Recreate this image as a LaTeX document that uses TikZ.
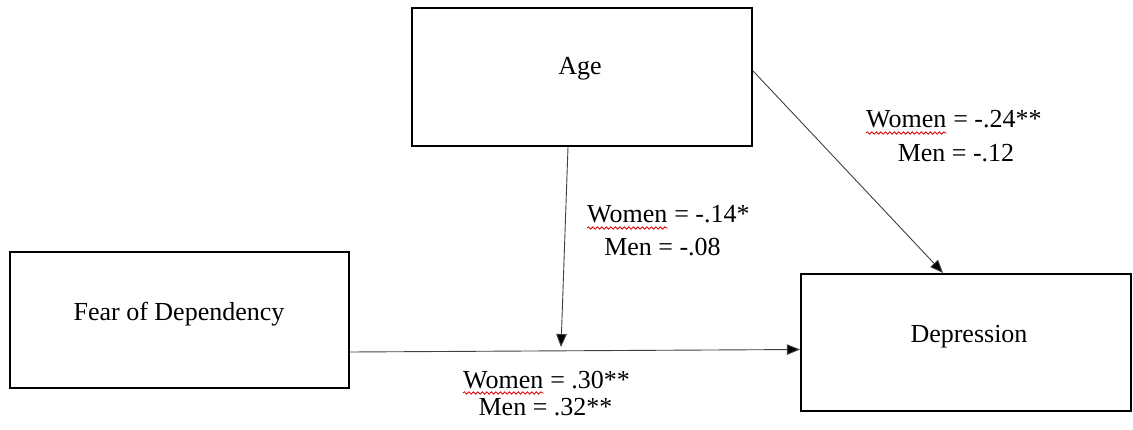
\documentclass[tikz,border=0pt]{standalone}
\usepackage{fontspec}
\setmainfont{Liberation Serif}
\usetikzlibrary{arrows.meta,decorations.pathmorphing}
\newcommand\lblfont{\fontsize{26}{30}\selectfont}
\tikzset{
  box/.style={draw=black, line width=2.2pt, inner sep=0pt, fill=white},
  txt/.style={inner sep=0pt, anchor=base, font=\lblfont},
  wtxt/.style={inner sep=0pt, anchor=base west, font=\lblfont},
  rest/.style={inner sep=0pt, anchor=base west, font=\lblfont, xshift=6.5pt},
  conn/.style={draw=black!75, line width=0.9pt, -{Triangle[length=13pt,width=10.5pt,fill=black]}},
  wavy/.style={draw=red!85!black, line width=0.8pt, decorate, decoration={snake, amplitude=1.2pt, segment length=4.5pt}}
}
\begin{document}
\begin{tikzpicture}[x=1pt,y=1pt]
\useasboundingbox (0,0) rectangle (1133,429);
% boxes
\node[box, minimum width=339pt, minimum height=136pt] (fear) at (179.5,109) {};
\node[box, minimum width=340pt, minimum height=138pt] (age) at (582,352) {};
\node[box, minimum width=330pt, minimum height=137pt] (dep) at (966,86.5) {};
% box texts
\node[txt] (agetxt) at (580,354) {Age};
\node[txt] (feartxt) at (179,109) {Fear of Dependency};
\node[txt] (deptxt) at (969,87) {Depression};
% connector points
\coordinate (vs) at ([xshift=-14pt]age.south);
\coordinate (vm) at (561,82);
\coordinate (hs) at ([yshift=-32pt]fear.east);
\coordinate (he) at ([yshift=-7pt]dep.west);
\coordinate (ds) at ([yshift=6pt]age.east);
\coordinate (de) at ([xshift=-23pt]dep.north);
% connectors
\draw[conn] (hs) -- (he);
\draw[conn] (vs) -- (vm);
\draw[conn] (ds) -- (de);
% labels
\node[wtxt] (wa) at (866,301) {Women};
\node[rest] (la1) at (wa.base east) {= -.24**};
\node[txt] (la2) at (956,267) {Men = -.12};
\node[wtxt] (wb) at (587,206) {Women};
\node[rest] (lb1) at (wb.base east) {= -.14*};
\node[txt] (lb2) at (662.5,174) {Men = -.08};
\node[wtxt] (wc) at (463,41) {Women};
\node[rest] (lc1) at (wc.base east) {= .30**};
\node[txt] (lc2) at (545.5,14) {Men = .32**};
% spell-check underlines
\draw[wavy] ([yshift=-5pt]wa.base west) -- ([yshift=-5pt]wa.base east);
\draw[wavy] ([yshift=-5pt]wb.base west) -- ([yshift=-5pt]wb.base east);
\draw[wavy] ([yshift=-5pt]wc.base west) -- ([yshift=-5pt]wc.base east);
\end{tikzpicture}
\end{document}
